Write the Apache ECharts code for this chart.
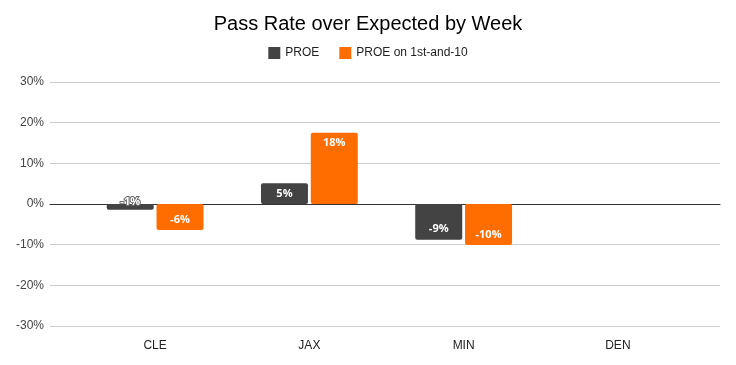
<!DOCTYPE html>
<html>
<head>
<meta charset="utf-8">
<script src="https://cdn.jsdelivr.net/npm/echarts@6/dist/echarts.min.js"></script>
<style>html,body{margin:0;padding:0;background:#fff}#c{width:736px;height:365px}</style>
</head>
<body>
<div id="c"></div>
<script>
const categories = ['CLE', 'JAX', 'MIN', 'DEN'];
const proe = [-1.4, 5.1, -8.8, null];
const proeFirst10 = [-6.4, 17.5, -10.1, null];
const yTicks = [-30, -20, -10, 0, 10, 20, 30];
const seriesNames = ['PROE', 'PROE on 1st-and-10'];

const FONT = '"Liberation Sans", Arial, sans-serif';
const chart = echarts.init(document.getElementById('c'), null, {renderer: 'canvas'});

function labelFor(v) {
  return {
    show: true,
    position: v < 0 ? 'insideBottom' : 'insideTop',
    distance: 5,
    color: '#fff',
    fontFamily: '"Open Sans", Roboto, sans-serif',
    fontWeight: 'bold',
    fontSize: 11,
    formatter: p => Math.round(p.value) + '%'
  };
}
function mkData(arr) {
  return arr.map(v => {
    if (v === null) return null;
    const item = {value: v, label: labelFor(v)};
    if (Math.abs(v) < 3) {
      item.label = Object.assign({}, item.label, {
        position: 'inside', offset: [0, -5],
        textBorderColor: '#666', textBorderWidth: 2
      });
    }
    return item;
  });
}

chart.setOption({
  animation: false,
  title: {
    text: 'Pass Rate over Expected by Week',
    left: 'center', top: 9,
    textStyle: {fontFamily: FONT, fontSize: 20, fontWeight: 'normal', color: '#000'}
  },
  legend: {
    data: seriesNames,
    top: 42, left: 'center',
    itemWidth: 12, itemHeight: 12, itemGap: 20,
    icon: 'rect',
    textStyle: {fontFamily: FONT, fontSize: 12, color: '#222'}
  },
  grid: [
    {left: 50, right: 16, top: 82, bottom: 39},
    {left: 78, right: 41, top: 82, bottom: 39}
  ],
  xAxis: [
    {
      gridIndex: 0, type: 'category', data: [''],
      axisLine: {show: true, onZero: true, lineStyle: {color: '#333', width: 1}},
      axisTick: {show: false}, axisLabel: {show: false}, splitLine: {show: false}
    },
    {
      gridIndex: 1, type: 'category', data: categories,
      axisLine: {show: false}, axisTick: {show: false},
      axisLabel: {color: '#222', fontFamily: FONT, fontSize: 12, margin: 14}
    }
  ],
  yAxis: [
    {
      gridIndex: 0, type: 'value', min: yTicks[0], max: yTicks[yTicks.length - 1], interval: 10,
      axisLine: {show: false}, axisTick: {show: false},
      axisLabel: {color: '#444', fontFamily: FONT, fontSize: 12, margin: 6, formatter: v => v + '%'},
      splitLine: {lineStyle: {color: '#ccc'}}
    },
    {
      gridIndex: 1, type: 'value', min: yTicks[0], max: yTicks[yTicks.length - 1], interval: 10,
      show: false, splitLine: {show: false}
    }
  ],
  series: [
    {
      name: seriesNames[0], type: 'bar', xAxisIndex: 1, yAxisIndex: 1,
      data: mkData(proe), barWidth: 47, barGap: '6%',
      itemStyle: {color: '#434343', borderRadius: 2}
    },
    {
      name: seriesNames[1], type: 'bar', xAxisIndex: 1, yAxisIndex: 1,
      data: mkData(proeFirst10), barWidth: 47, barGap: '6%',
      itemStyle: {color: '#ff6d01', borderRadius: 2}
    }
  ]
});
</script>
</body>
</html>
